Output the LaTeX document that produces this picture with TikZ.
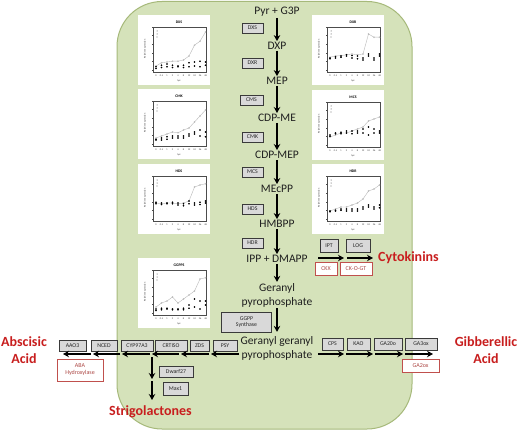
\documentclass[tikz,border=0pt]{standalone}
\usepackage{fontspec}
\setmainfont{Carlito}
\usetikzlibrary{arrows.meta,plotmarks}
\definecolor{bggreen}{HTML}{D5E2BA}
\definecolor{bgedge}{HTML}{A6B97A}
\definecolor{lblred}{HTML}{C81E1E}
\definecolor{boxfill}{HTML}{D9D9D9}
\definecolor{boxedge}{HTML}{3A3A3A}
\definecolor{redbox}{HTML}{C0504D}
\tikzset{
 enz/.style={draw=boxedge, fill=boxfill, line width=0.7pt, minimum height=10pt, inner sep=0pt, font=\fontsize{5.8}{6.8}\selectfont, text=black!85, align=center},
 rbox/.style={draw=redbox, fill=white, line width=0.7pt, minimum height=13pt, inner sep=0pt, font=\fontsize{6}{7}\selectfont, text=redbox!90!black, align=center},
 met/.style={font=\fontsize{11.5}{14}\selectfont, inner sep=1pt, align=center, text=black!88},
 horm/.style={font=\fontsize{14}{17}\selectfont\bfseries, text=lblred, align=center, inner sep=0pt},
 arr/.style={-{Stealth[length=6pt,width=6.5pt]}, line width=1.5pt, black},
 tiny/.style={font=\fontsize{2.4}{2.8}\selectfont, inner sep=0pt, text=black!80},
}
\newcommand\minichart[5]{%
\begin{scope}[shift={(#1,#2)}]
 \fill[white] (0,0) rectangle (72,70);
 \node[font=\fontsize{3.8}{4}\selectfont\bfseries, inner sep=0pt] (ttl#3) at (41,7) {#3};
 \draw[line width=0.3pt, black!70] (15,12) rectangle (68,57);
 \node[tiny, rotate=90] (yl#3) at (7,34) {Relative expression};
 \foreach \t in {0,...,5} \draw[line width=0.25pt, black!70] (15,55-\t*8.6) -- ++(-1.5,0);
 \foreach \lab [count=\i from 0] in {0,0.5,1,2,4,8,12,24,36,48}
   \node[tiny] (xt#3\i) at (18+\i*5.5,61) {\lab};
 \node[tiny] (hpi#3) at (41,66) {hpi};
 \fill[black!80] (19,16) circle (0.5pt) (19,19) circle (0.5pt);
 \draw[gray, line width=0.3pt] (19,22) circle (0.5pt);
 \begin{scope}[shift={(18,55)}, x=5.5pt, y=40pt]
  \draw[gray!55, line width=0.4pt] plot[mark=o, mark size=0.7pt, mark options={line width=0.3pt}] coordinates {#4};
  \draw[black] plot[only marks, mark=*, mark size=0.6pt] coordinates {#5};
 \end{scope}
\end{scope}}
\begin{document}
\begin{tikzpicture}[x=1pt,y=-1pt]
\useasboundingbox (0,0) rectangle (520,436);
\fill[white] (0,0) rectangle (520,436);
\draw[bgedge, fill=bggreen, line width=1pt, rounded corners=45pt] (117,1.5) rectangle (412,429);

% charts
\minichart{138}{15}{DXS}{(0,.1)(1,.18)(2,.2)(3,.22)(4,.22)(5,.25)(6,.35)(7,.62)(8,.72)(9,.95)}{(0,.08)(1,.12)(2,.15)(3,.12)(4,.1)(5,.12)(6,.18)(7,.2)(8,.22)(9,.2)(0,.04)(1,.06)(2,.08)(3,.06)(4,.08)(5,.06)(6,.08)(7,.1)(8,.08)(9,.12)}
\minichart{138}{89}{CMK}{(0,.15)(1,.2)(2,.25)(3,.3)(4,.28)(5,.35)(6,.4)(7,.55)(8,.7)(9,.85)}{(0,.1)(1,.15)(2,.18)(3,.2)(4,.15)(5,.2)(6,.25)(7,.3)(8,.35)(9,.3)(0,.12)(1,.1)(2,.12)(3,.15)(4,.2)(5,.15)(6,.2)(7,.25)(8,.2)(9,.18)}
\minichart{138}{164}{HDS}{(0,.4)(1,.38)(2,.4)(3,.4)(4,.38)(5,.4)(6,.45)(7,.8)(8,.85)(9,.88)}{(0,.42)(1,.36)(2,.4)(3,.38)(4,.35)(5,.33)(6,.45)(7,.35)(8,.42)(9,.45)(0,.38)(1,.4)(2,.38)(3,.42)(4,.4)(5,.38)(6,.38)(7,.4)(8,.36)(9,.4)}
\minichart{138}{258}{GGPPS}{(0,.15)(1,.25)(2,.3)(3,.4)(4,.25)(5,.35)(6,.45)(7,.55)(8,.85)(9,.88)}{(0,.1)(1,.12)(2,.12)(3,.1)(4,.08)(5,.12)(6,.2)(7,.35)(8,.3)(9,.3)(0,.06)(1,.08)(2,.1)(3,.08)(4,.1)(5,.08)(6,.12)(7,.15)(8,.1)(9,.2)}
\minichart{312}{15}{DXR}{(0,.32)(1,.35)(2,.36)(3,.38)(4,.4)(5,.38)(6,.4)(7,.9)(8,.82)(9,.82)}{(0,.3)(1,.33)(2,.35)(3,.35)(4,.3)(5,.35)(6,.25)(7,.4)(8,.3)(9,.4)(0,.28)(1,.3)(2,.32)(3,.38)(4,.36)(5,.28)(6,.3)(7,.35)(8,.25)(9,.35)}
\minichart{312}{90}{MCS}{(0,.2)(1,.25)(2,.3)(3,.3)(4,.35)(5,.4)(6,.45)(7,.6)(8,.65)(9,.7)}{(0,.25)(1,.3)(2,.32)(3,.3)(4,.35)(5,.3)(6,.4)(7,.45)(8,.3)(9,.35)(0,.22)(1,.28)(2,.28)(3,.35)(4,.28)(5,.35)(6,.3)(7,.25)(8,.4)(9,.3)}
\minichart{312}{164}{HDR}{(0,.2)(1,.25)(2,.3)(3,.3)(4,.35)(5,.4)(6,.5)(7,.7)(8,.75)(9,.85)}{(0,.2)(1,.22)(2,.25)(3,.25)(4,.2)(5,.25)(6,.3)(7,.35)(8,.3)(9,.35)(0,.18)(1,.2)(2,.22)(3,.2)(4,.25)(5,.2)(6,.25)(7,.3)(8,.25)(9,.28)}

% pathway metabolites
\node[met] (pyr) at (277,12) {Pyr + G3P};
\node[met] (dxp) at (277,46) {DXP};
\node[met] (mep) at (277,81) {MEP};
\node[met] (cdpme) at (277,118) {CDP-ME};
\node[met] (cdpmep) at (277,155) {CDP-MEP};
\node[met] (mecpp) at (277,189) {MEcPP};
\node[met] (hmbpp) at (277,224) {HMBPP};
\node[met] (ipp) at (277,259) {IPP + DMAPP};
\node[met] (gpp) at (277,295) {Geranyl\\pyrophosphate};
\node[met] (ggpp) at (277,348) {Geranyl geranyl\\pyrophosphate};

\draw[arr] (pyr) -- (dxp);
\draw[arr] (dxp) -- (mep);
\draw[arr] (mep) -- (cdpme);
\draw[arr] (cdpme) -- (cdpmep);
\draw[arr] (cdpmep) -- (mecpp);
\draw[arr] (mecpp) -- (hmbpp);
\draw[arr] (hmbpp) -- (ipp);
\draw[arr] (ipp) -- (gpp);
\draw[arr, shorten >=3pt] (gpp) -- (ggpp);

% enzymes on main axis
\node[enz, minimum width=21pt] (dxs) at (252.5,28) {DXS};
\node[enz, minimum width=21pt] (dxr) at (252.5,63) {DXR};
\node[enz, minimum width=23pt] (cms) at (251.5,100) {CMS};
\node[enz, minimum width=21pt] (cmk) at (252.5,137) {CMK};
\node[enz, minimum width=21pt] (mcs) at (252.5,172) {MCS};
\node[enz, minimum width=21pt] (hds) at (252.5,209) {HDS};
\node[enz, minimum width=21pt] (hdr) at (252.5,243) {HDR};
\node[enz, minimum width=50pt, minimum height=20pt] (ggpps) at (246.5,322) {GGPP\\Synthase};

% cytokinins
\node[enz, minimum width=18pt, minimum height=13pt] (ipt) at (329,245.5) {IPT};
\node[enz, minimum width=24pt, minimum height=13pt] (log) at (358,245.5) {LOG};
\node[rbox, minimum width=22pt] (ckx) at (326,268.5) {CKX};
\node[rbox, minimum width=32pt] (ckogt) at (356,268.5) {CK-O-GT};
\node[horm, anchor=west] (cyto) at (378,258) {Cytokinins};
\coordinate (c1s) at (318,258); \coordinate (c1e) at (344,258);
\coordinate (c2s) at (347,258); \coordinate (c2e) at (373,258);
\draw[arr] (c1s) -- (c1e);
\draw[arr] (c2s) -- (c2e);

% carotenoid branch (left)
\node[enz, minimum width=27pt, minimum height=11pt] (aao3) at (72.5,345.5) {AAO3};
\node[enz, minimum width=26pt, minimum height=11pt] (nced) at (104,345.5) {NCED};
\node[enz, minimum width=32pt, minimum height=11pt] (cyp) at (137,345.5) {CYP97A3};
\node[enz, minimum width=32pt, minimum height=11pt] (crtiso) at (171,345.5) {CRTISO};
\node[enz, minimum width=19pt, minimum height=11pt] (zds) at (199.5,345.5) {ZDS};
\node[enz, minimum width=24pt, minimum height=11pt] (psy) at (225,345.5) {PSY};
\node[rbox, minimum width=46pt, minimum height=22pt] (abah) at (80,370) {ABA\\Hydroxylase};
\node[enz, minimum width=34pt, minimum height=11pt] (dwarf) at (176,371.5) {Dwarf27};
\node[enz, minimum width=25pt, minimum height=13pt] (max1) at (175.5,388.5) {Max1};
\node[horm] (aba) at (24,350.5) {Abscisic\\Acid};
\node[horm] (strig) at (150.5,412) {Strigolactones};
\foreach \s/\e [count=\k] in {239/211,209/181,179/152,150/122,120/93,91/63}{
  \coordinate (ls\k) at (\s,354); \coordinate (le\k) at (\e,354);
  \draw[arr] (ls\k) -- (le\k);}
\coordinate (v0) at (152,357); \coordinate (v1) at (152,379);
\coordinate (v2) at (152,381); \coordinate (v3) at (152,400);
\draw[arr] (v0) -- (v1);
\draw[arr] (v2) -- (v3);

% gibberellin branch (right)
\node[enz, minimum width=21pt, minimum height=12pt] (cps) at (332.5,344) {CPS};
\node[enz, minimum width=23pt, minimum height=12pt] (kao) at (358.5,344) {KAO};
\node[enz, minimum width=28pt, minimum height=12pt] (ga20) at (388,344) {GA20o};
\node[enz, minimum width=32pt, minimum height=12pt] (ga3) at (421,344) {GA3ox};
\node[rbox, minimum width=37pt] (ga2) at (420.5,365.5) {GA2ox};
\node[horm] (gib) at (486,350.5) {Gibberellic\\Acid};
\foreach \s/\e [count=\k] in {318/344,346/373,375/403,405/433}{
  \coordinate (rs\k) at (\s,354); \coordinate (re\k) at (\e,354);
  \draw[arr] (rs\k) -- (re\k);}
\end{tikzpicture}
\end{document}
